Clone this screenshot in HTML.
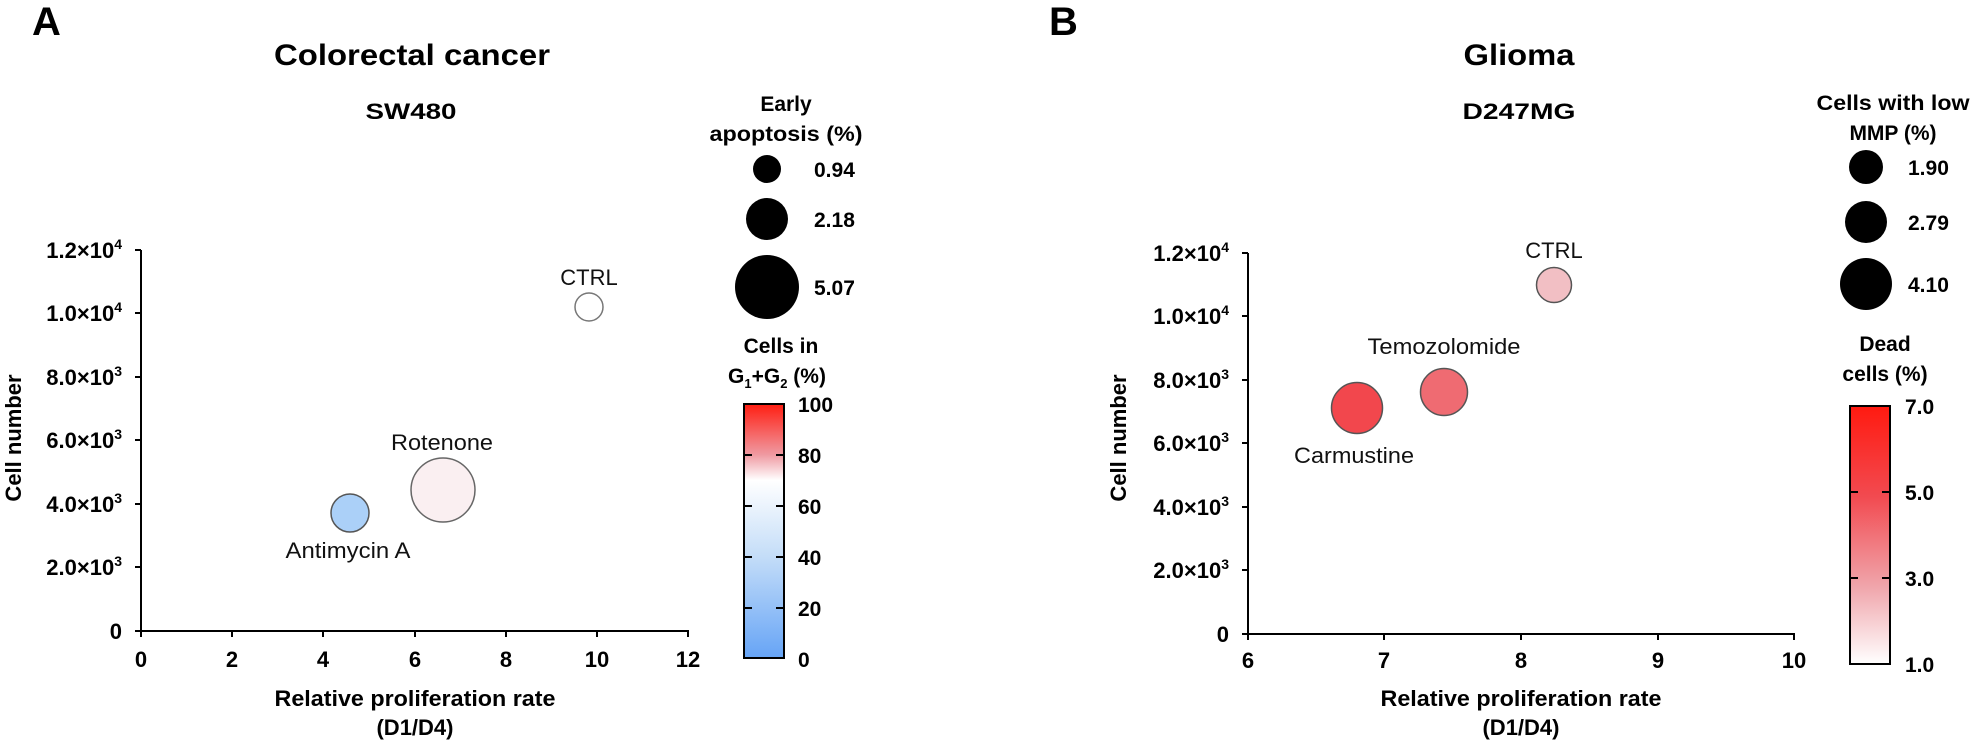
<!DOCTYPE html>
<html><head><meta charset="utf-8"><style>
html,body{margin:0;padding:0;background:#fff;}
svg{display:block;font-family:"Liberation Sans",Arial,sans-serif;}
.b{font-weight:bold;}
</style></head><body>
<svg width="1975" height="743" viewBox="0 0 1975 743" xmlns="http://www.w3.org/2000/svg">
<defs>
<linearGradient id="gA" x1="0" y1="0" x2="0" y2="1">
<stop offset="0" stop-color="#ff1e12"/>
<stop offset="0.2" stop-color="#ef9aa2"/>
<stop offset="0.3" stop-color="#ffffff"/>
<stop offset="0.6" stop-color="#c4ddf8"/>
<stop offset="1" stop-color="#66a4f6"/>
</linearGradient>
<linearGradient id="gB" x1="0" y1="0" x2="0" y2="1">
<stop offset="0" stop-color="#ff1a10"/>
<stop offset="0.35" stop-color="#f24a50"/>
<stop offset="0.7" stop-color="#f0a5ab"/>
<stop offset="1" stop-color="#ffffff"/>
</linearGradient>
</defs>

<!-- PANEL A -->
<text x="32" y="35" class="b" font-size="40">A</text>
<text x="412" y="65" class="b" font-size="30" text-anchor="middle" textLength="276" lengthAdjust="spacingAndGlyphs">Colorectal cancer</text>
<text x="411" y="119" class="b" font-size="22" text-anchor="middle" textLength="91" lengthAdjust="spacingAndGlyphs">SW480</text>

<g stroke="#000" stroke-width="2">
<line x1="141" y1="250" x2="141" y2="632"/>
<line x1="140" y1="631" x2="689" y2="631"/>
<line x1="135" y1="250" x2="141" y2="250"/><line x1="135" y1="313" x2="141" y2="313"/>
<line x1="135" y1="377" x2="141" y2="377"/><line x1="135" y1="440" x2="141" y2="440"/>
<line x1="135" y1="504" x2="141" y2="504"/><line x1="135" y1="567" x2="141" y2="567"/>
<line x1="135" y1="631" x2="141" y2="631"/>
<line x1="141" y1="631" x2="141" y2="637"/><line x1="232" y1="631" x2="232" y2="637"/>
<line x1="323" y1="631" x2="323" y2="637"/><line x1="415" y1="631" x2="415" y2="637"/>
<line x1="506" y1="631" x2="506" y2="637"/><line x1="597" y1="631" x2="597" y2="637"/>
<line x1="688" y1="631" x2="688" y2="637"/>
</g>
<g class="b" font-size="22" text-anchor="end">
<text x="122" y="258">1.2×10<tspan font-size="14" dy="-9">4</tspan></text>
<text x="122" y="321">1.0×10<tspan font-size="14" dy="-9">4</tspan></text>
<text x="122" y="385">8.0×10<tspan font-size="14" dy="-9">3</tspan></text>
<text x="122" y="448">6.0×10<tspan font-size="14" dy="-9">3</tspan></text>
<text x="122" y="512">4.0×10<tspan font-size="14" dy="-9">3</tspan></text>
<text x="122" y="575">2.0×10<tspan font-size="14" dy="-9">3</tspan></text>
<text x="122" y="639">0</text>
</g>
<g class="b" font-size="22" text-anchor="middle">
<text x="141" y="667">0</text><text x="232" y="667">2</text><text x="323" y="667">4</text>
<text x="415" y="667">6</text><text x="506" y="667">8</text><text x="597" y="667">10</text>
<text x="688" y="667">12</text>
</g>
<text transform="translate(21,438) rotate(-90)" class="b" font-size="22" text-anchor="middle">Cell number</text>
<text x="415" y="706" class="b" font-size="22" text-anchor="middle" textLength="281" lengthAdjust="spacingAndGlyphs">Relative proliferation rate</text>
<text x="415" y="735" class="b" font-size="22" text-anchor="middle">(D1/D4)</text>

<circle cx="589" cy="307" r="14" fill="#fff" stroke="#777" stroke-width="1.5"/>
<circle cx="443" cy="490" r="32" fill="#faeff1" stroke="#666" stroke-width="1.5"/>
<circle cx="350" cy="513" r="19" fill="#abd0f8" stroke="#555" stroke-width="1.5"/>
<g font-size="22" text-anchor="middle" fill="#111">
<text x="589" y="285">CTRL</text>
<text x="442" y="450" textLength="102" lengthAdjust="spacingAndGlyphs">Rotenone</text>
<text x="348" y="558" textLength="125" lengthAdjust="spacingAndGlyphs">Antimycin A</text>
</g>

<g class="b" font-size="21">
<text x="786" y="111" text-anchor="middle">Early</text>
<text x="786" y="141" text-anchor="middle" textLength="153" lengthAdjust="spacingAndGlyphs">apoptosis (%)</text>
<circle cx="767" cy="169" r="14" fill="#000"/>
<circle cx="767" cy="219" r="21" fill="#000"/>
<circle cx="767" cy="287" r="32" fill="#000"/>
<text x="814" y="177">0.94</text>
<text x="814" y="227">2.18</text>
<text x="814" y="295">5.07</text>
<text x="781" y="353" text-anchor="middle">Cells in</text>
<text x="777" y="383" text-anchor="middle">G<tspan font-size="13" dy="5">1</tspan><tspan dy="-5">+G</tspan><tspan font-size="13" dy="5">2</tspan><tspan dy="-5"> (%)</tspan></text>
</g>
<rect x="744" y="404" width="40" height="254" fill="url(#gA)" stroke="#000" stroke-width="2"/>
<g stroke="#000" stroke-width="2">
<line x1="744" y1="455" x2="752" y2="455"/><line x1="776" y1="455" x2="784" y2="455"/>
<line x1="744" y1="506" x2="752" y2="506"/><line x1="776" y1="506" x2="784" y2="506"/>
<line x1="744" y1="557" x2="752" y2="557"/><line x1="776" y1="557" x2="784" y2="557"/>
<line x1="744" y1="608" x2="752" y2="608"/><line x1="776" y1="608" x2="784" y2="608"/>
</g>
<g class="b" font-size="21">
<text x="798" y="412">100</text><text x="798" y="463">80</text><text x="798" y="514">60</text>
<text x="798" y="565">40</text><text x="798" y="616">20</text><text x="798" y="667">0</text>
</g>

<!-- PANEL B -->
<text x="1049" y="35" class="b" font-size="40">B</text>
<text x="1519" y="65" class="b" font-size="30" text-anchor="middle" textLength="111" lengthAdjust="spacingAndGlyphs">Glioma</text>
<text x="1519" y="119" class="b" font-size="22" text-anchor="middle" textLength="113" lengthAdjust="spacingAndGlyphs">D247MG</text>

<g stroke="#000" stroke-width="2">
<line x1="1248" y1="253" x2="1248" y2="635"/>
<line x1="1247" y1="634" x2="1795" y2="634"/>
<line x1="1242" y1="253" x2="1248" y2="253"/><line x1="1242" y1="316" x2="1248" y2="316"/>
<line x1="1242" y1="380" x2="1248" y2="380"/><line x1="1242" y1="443" x2="1248" y2="443"/>
<line x1="1242" y1="507" x2="1248" y2="507"/><line x1="1242" y1="570" x2="1248" y2="570"/>
<line x1="1242" y1="634" x2="1248" y2="634"/>
<line x1="1248" y1="634" x2="1248" y2="640"/><line x1="1384" y1="634" x2="1384" y2="640"/>
<line x1="1521" y1="634" x2="1521" y2="640"/><line x1="1658" y1="634" x2="1658" y2="640"/>
<line x1="1794" y1="634" x2="1794" y2="640"/>
</g>
<g class="b" font-size="22" text-anchor="end">
<text x="1229" y="261">1.2×10<tspan font-size="14" dy="-9">4</tspan></text>
<text x="1229" y="324">1.0×10<tspan font-size="14" dy="-9">4</tspan></text>
<text x="1229" y="388">8.0×10<tspan font-size="14" dy="-9">3</tspan></text>
<text x="1229" y="451">6.0×10<tspan font-size="14" dy="-9">3</tspan></text>
<text x="1229" y="515">4.0×10<tspan font-size="14" dy="-9">3</tspan></text>
<text x="1229" y="578">2.0×10<tspan font-size="14" dy="-9">3</tspan></text>
<text x="1229" y="642">0</text>
</g>
<g class="b" font-size="22" text-anchor="middle">
<text x="1248" y="668">6</text><text x="1384" y="668">7</text><text x="1521" y="668">8</text>
<text x="1658" y="668">9</text><text x="1794" y="668">10</text>
</g>
<text transform="translate(1126,438) rotate(-90)" class="b" font-size="22" text-anchor="middle">Cell number</text>
<text x="1521" y="706" class="b" font-size="22" text-anchor="middle" textLength="281" lengthAdjust="spacingAndGlyphs">Relative proliferation rate</text>
<text x="1521" y="735" class="b" font-size="22" text-anchor="middle">(D1/D4)</text>

<circle cx="1554" cy="285" r="17.5" fill="#f2bfc4" stroke="#555" stroke-width="1.5"/>
<circle cx="1444" cy="392" r="23.5" fill="#ef6b72" stroke="#555" stroke-width="1.5"/>
<circle cx="1357" cy="408" r="25.5" fill="#f2474d" stroke="#555" stroke-width="1.5"/>
<g font-size="22" text-anchor="middle" fill="#111">
<text x="1554" y="258">CTRL</text>
<text x="1444" y="354" textLength="153" lengthAdjust="spacingAndGlyphs">Temozolomide</text>
<text x="1354" y="463" textLength="120" lengthAdjust="spacingAndGlyphs">Carmustine</text>
</g>

<g class="b" font-size="21">
<text x="1893" y="110" text-anchor="middle" textLength="153" lengthAdjust="spacingAndGlyphs">Cells with low</text>
<text x="1893" y="140" text-anchor="middle">MMP (%)</text>
<circle cx="1866" cy="167" r="17" fill="#000"/>
<circle cx="1866" cy="222" r="21" fill="#000"/>
<circle cx="1866" cy="284" r="26" fill="#000"/>
<text x="1908" y="175">1.90</text>
<text x="1908" y="230">2.79</text>
<text x="1908" y="292">4.10</text>
<text x="1885" y="351" text-anchor="middle">Dead</text>
<text x="1885" y="381" text-anchor="middle">cells (%)</text>
</g>
<rect x="1850" y="406" width="40" height="258" fill="url(#gB)" stroke="#000" stroke-width="2"/>
<g stroke="#000" stroke-width="2">
<line x1="1850" y1="492" x2="1858" y2="492"/><line x1="1882" y1="492" x2="1890" y2="492"/>
<line x1="1850" y1="578" x2="1858" y2="578"/><line x1="1882" y1="578" x2="1890" y2="578"/>
</g>
<g class="b" font-size="21">
<text x="1905" y="414">7.0</text><text x="1905" y="500">5.0</text>
<text x="1905" y="586">3.0</text><text x="1905" y="672">1.0</text>
</g>
</svg>
</body></html>
